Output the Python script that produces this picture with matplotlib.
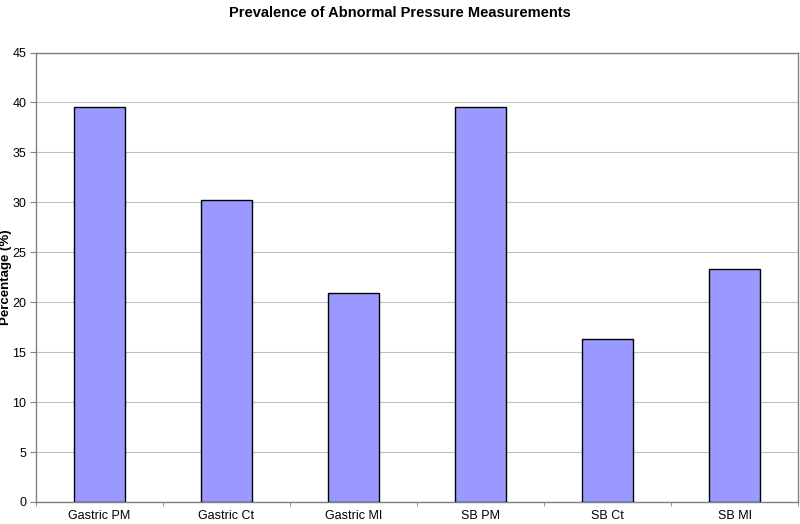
import matplotlib
matplotlib.use("Agg")
import matplotlib.pyplot as plt
import numpy as np

categories = ["Gastric PM", "Gastric Ct", "Gastric MI", "SB PM", "SB Ct", "SB MI"]
values = [39.5, 30.2, 20.9, 39.5, 16.3, 23.3]
yticks = [0, 5, 10, 15, 20, 25, 30, 35, 40, 45]

plt.rcParams['font.family'] = ['Liberation Sans', 'DejaVu Sans']

fig = plt.figure(figsize=(8, 5.24), dpi=100)
ax = fig.add_axes([36/800, 22/524, (798-36)/800, (502-52.5)/524])

x = np.arange(len(categories))
ax.bar(x, values, width=0.4, color="#9999FF", edgecolor="#000000", linewidth=1.0, zorder=3)

ax.set_xlim(-0.5, len(categories) - 0.5)
ax.set_ylim(0, 45)
ax.set_yticks(yticks)
ax.set_yticklabels([str(t) for t in yticks], fontsize=9)
ax.yaxis.grid(True, color="#C0C0C0", linewidth=0.8, zorder=0)
ax.set_axisbelow(True)

ax.set_xticks(x)
ax.set_xticklabels(categories, fontsize=9)
ax.tick_params(axis='x', length=0, pad=6)
ax.set_xticks(np.arange(-0.5, len(categories) + 0.5, 1), minor=True)
ax.tick_params(axis='x', which='minor', length=3, color="#808080", direction='out')
ax.tick_params(axis='y', length=4, color="#808080", direction='out', pad=3)

for s in ax.spines.values():
    s.set_color("#808080")
    s.set_linewidth(1.0)

fig.text(6/800, 1 - 277/524, "Percentage (%)", rotation=90, ha='center', va='center',
         fontsize=9.5, fontweight='bold')
fig.text(0.5, 1 - 13/524, "Prevalence of Abnormal Pressure Measurements",
         ha='center', va='center', fontsize=10.5, fontweight='bold')

fig.savefig("out.png", dpi=100)
